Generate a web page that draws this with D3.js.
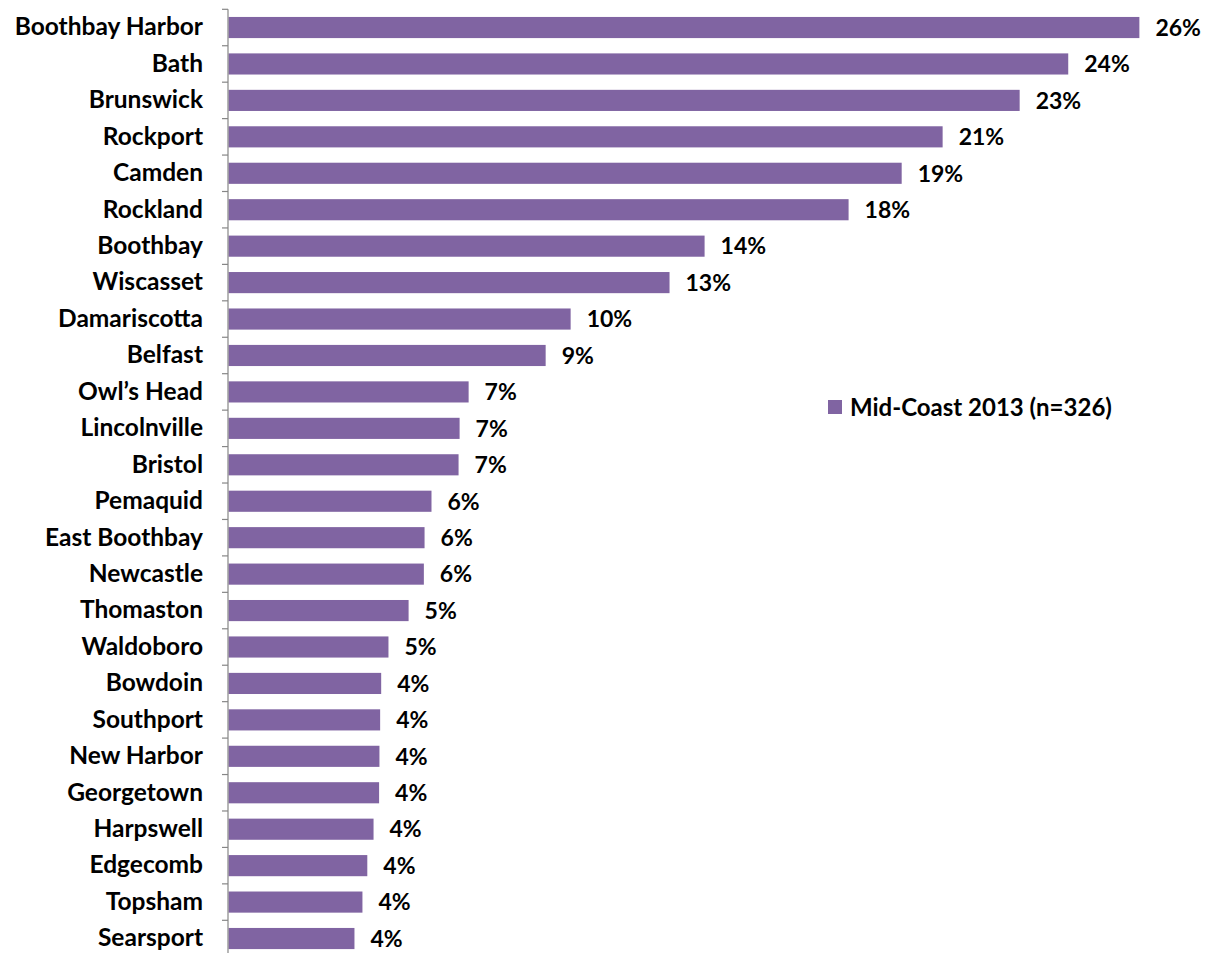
<!DOCTYPE html>
<html>
<head>
<meta charset="utf-8">
<script src="https://cdn.jsdelivr.net/npm/d3@7"></script>
<style>
  html, body { margin: 0; padding: 0; background: #fff; }
  svg { display: block; }
  text { font-family: Lato, "Open Sans", sans-serif; font-weight: bold; fill: #000; }
</style>
</head>
<body>
<svg id="chart" width="1205" height="953"></svg>
<script>
const categories = ["Boothbay Harbor","Bath","Brunswick","Rockport","Camden","Rockland","Boothbay","Wiscasset","Damariscotta","Belfast","Owl\u2019s Head","Lincolnville","Bristol","Pemaquid","East Boothbay","Newcastle","Thomaston","Waldoboro","Bowdoin","Southport","New Harbor","Georgetown","Harpswell","Edgecomb","Topsham","Searsport"];
const values = [26.25,24.2,22.8,20.58,19.4,17.87,13.72,12.71,9.86,9.14,6.92,6.66,6.63,5.85,5.65,5.63,5.19,4.61,4.40,4.37,4.35,4.34,4.18,4.0,3.86,3.63];
const seriesName = "Mid-Coast 2013 (n=326)";
const barColor = "#8064A2";

const svg = d3.select("#chart");
const x0 = 228.5;
const x = d3.scaleLinear().domain([0, 30]).range([x0, x0 + 34.7 * 30]);
const y = d3.scaleBand().domain(categories).range([9.3, 9.3 + 26 * 36.44])
  .paddingInner(0.42).paddingOuter(0.21);

// bars
svg.append("g").selectAll("rect").data(values).join("rect")
  .attr("x", x(0))
  .attr("y", (d, i) => y(categories[i]))
  .attr("width", d => x(d) - x(0))
  .attr("height", y.bandwidth())
  .attr("fill", barColor);

// value labels
svg.append("g").selectAll("text").data(values).join("text")
  .attr("x", d => x(d) + 16)
  .attr("y", (d, i) => y(categories[i]) + y.bandwidth() / 2)
  .attr("dy", "0.36em")
  .style("font-size", "23px")
  .text(d => Math.round(d) + "%");

// y axis
const axis = d3.axisLeft(y).tickSize(0).tickPadding(25);
const ag = svg.append("g").attr("transform", `translate(${x0 - 0.5},0)`).call(axis);
ag.select(".domain").attr("stroke", "#868686").attr("stroke-width", 1.2)
  .attr("d", `M0,${y.range()[0]}V953`);
ag.selectAll(".tick text").style("font-size", "24.5px")
  .style("font-family", "Lato, 'Open Sans', sans-serif").style("font-weight", "bold").attr("fill", "#000");
// boundary tick marks
const bounds = d3.range(categories.length + 1).map(i => y.range()[0] + i * y.step());
ag.append("g").selectAll("line").data(bounds).join("line")
  .attr("x1", -6).attr("x2", 0)
  .attr("y1", d => d).attr("y2", d => d)
  .attr("stroke", "#868686").attr("stroke-width", 1.2);

// legend
const lg = svg.append("g").attr("transform", "translate(828,400)");
lg.append("rect").attr("width", 14).attr("height", 14).attr("fill", barColor);
lg.append("text").attr("x", 22).attr("y", 7).attr("dy", "0.36em")
  .style("font-size", "24px").text(seriesName);
</script>
</body>
</html>
